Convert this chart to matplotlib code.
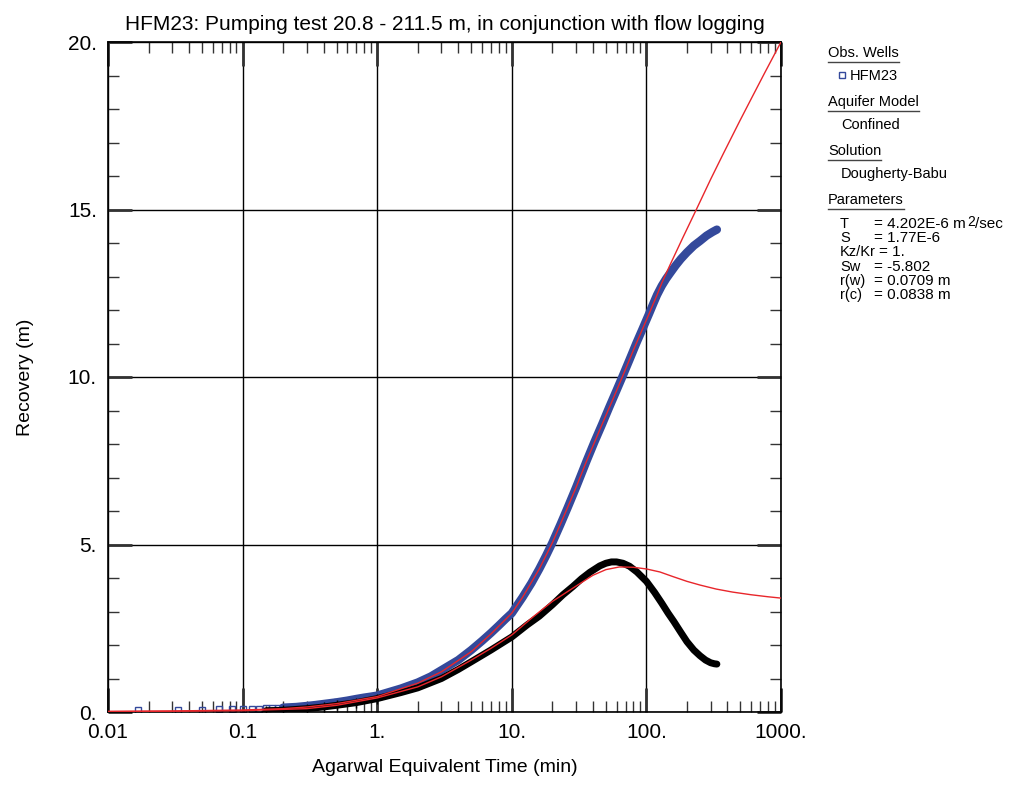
import matplotlib as mpl
mpl.use('Agg')
import matplotlib.pyplot as plt
import numpy as np
from matplotlib.ticker import FixedLocator, FixedFormatter, LogLocator, MultipleLocator
from matplotlib.lines import Line2D

plt.rcParams['font.family'] = ['Liberation Sans', 'DejaVu Sans']

# observed recovery, HFM23 (min, m)
t_obs = [0.0167, 0.0333, 0.05, 0.0667, 0.0833, 0.1, 0.1167, 0.1333, 0.15, 0.1667,
         0.1833, 0.2, 0.25, 0.3, 0.35, 0.4, 0.5, 0.6, 0.7, 0.8, 0.9, 1.0, 1.5,
         2.0, 2.5, 3.0, 4.0, 5.0, 6.0, 7.0, 8.0, 9.0, 10.0, 12.0, 14.0, 16.0, 18.0,
         20.0, 23.0, 26.0, 30.0, 36.0, 41.0, 47.0, 53.0, 60.0, 67.0, 75.0,
         84.0, 94.0, 105.0, 112.0, 120.0, 130.0, 140.0, 150.0, 165.0, 180.0, 200.0,
         225.0, 250.0, 280.0, 310.0, 334.0]
s_obs = [0.06, 0.06, 0.07, 0.08, 0.08, 0.09, 0.1, 0.1, 0.11, 0.12,
         0.12, 0.13, 0.15, 0.18, 0.21, 0.24, 0.29, 0.34, 0.39, 0.43, 0.46, 0.49, 0.7,
         0.88, 1.06, 1.25, 1.55, 1.85, 2.12, 2.36, 2.58, 2.78, 2.95, 3.42, 3.85, 4.27, 4.67,
         5.05, 5.6, 6.1, 6.7, 7.5, 8.05, 8.6, 9.1, 9.6, 10.05, 10.52,
         11.0, 11.45, 11.9, 12.17, 12.45, 12.72, 12.93, 13.1, 13.33, 13.52, 13.72,
         13.92, 14.06, 14.22, 14.33, 14.4]

# observed derivative (min, m)
t_der = [0.15, 0.2, 0.3, 0.4, 0.5, 0.7, 1.0, 1.5, 2.0, 3.0, 4.0, 5.0, 7.0, 10.0,
         13.0, 16.0, 20.0, 24.0, 28.5, 33.0, 38.0, 45.0, 50.0, 55.0, 60.0, 67.0,
         75.0, 85.0, 100.0, 115.0, 130.0, 145.0, 160.0, 180.0, 200.0, 225.0, 250.0,
         275.0, 300.0, 320.0, 334.0]
d_der = [0.04, 0.05, 0.1, 0.15, 0.2, 0.28, 0.4, 0.58, 0.72, 1.0, 1.27, 1.5, 1.85, 2.24,
         2.6, 2.86, 3.2, 3.5, 3.75, 3.98, 4.17, 4.36, 4.44, 4.48, 4.48, 4.44,
         4.35, 4.18, 3.9, 3.57, 3.25, 2.95, 2.7, 2.38, 2.1, 1.85, 1.68,
         1.55, 1.47, 1.44, 1.43]

# Dougherty-Babu fit, recovery and derivative
t_fit = [0.01, 0.03, 0.1, 0.2, 0.3, 0.5, 1.0, 2.0, 3.0, 5.0, 7.0, 10.0, 12.0, 16.0,
         20.0, 25.0, 30.0, 36.0, 47.0, 57.0, 67.0, 80.0, 94.0, 105.0, 120.0, 130.0,
         150.0, 186.0, 235.0, 300.0, 371.0, 495.0, 600.0, 750.0, 1000.0]
s_fit = [0.02, 0.03, 0.06, 0.1, 0.15, 0.25, 0.46, 0.86, 1.2, 1.8, 2.33, 2.95, 3.42, 4.27,
         5.05, 5.95, 6.7, 7.5, 8.6, 9.38, 10.05, 10.8, 11.45, 11.9, 12.45, 12.8,
         13.35, 14.15, 15.0, 15.9, 16.65, 17.65, 18.3, 19.05, 20.0]

t_fd = [0.01, 0.1, 0.3, 0.5, 1.0, 2.0, 3.0, 5.0, 7.0, 10.0, 14.4, 20.0, 28.5, 40.0,
        50.0, 63.0, 80.0, 100.0, 126.0, 158.0, 200.0, 250.0, 330.0, 436.0, 600.0,
        800.0, 1000.0]
d_fd = [0.01, 0.04, 0.1, 0.2, 0.42, 0.75, 1.05, 1.55, 1.9, 2.3, 2.84, 3.3, 3.7, 4.08,
        4.25, 4.33, 4.32, 4.27, 4.18, 4.04, 3.9, 3.79, 3.67, 3.58, 3.5,
        3.44, 3.40]

x_major = [0.01, 0.1, 1, 10, 100, 1000]
x_labels = ['0.01', '0.1', '1.', '10.', '100.', '1000.']
y_major = [0, 5, 10, 15, 20]
y_labels = ['0.', '5.', '10.', '15.', '20.']

blue = '#34499b'
red = '#e8262b'

fig = plt.figure(figsize=(10.27, 7.87), dpi=100)
ax = fig.add_axes([108 / 1027, 75 / 787, 673 / 1027, 670 / 787])

# dense data: sparse squares early, solid band where the points pile up
t_o = np.array(t_obs)
s_o = np.array(s_obs)
band = t_o >= 0.2
early = t_o <= 0.6
ax.plot(t_o[band], s_o[band], '-', color=blue, lw=6, solid_capstyle='round', zorder=2)
ax.plot(t_o[early], s_o[early], 's', mfc='none', mec=blue, ms=4, mew=1, zorder=2)

t_d = np.array(t_der)
d_d = np.array(d_der)
ax.plot(t_d, d_d, '-', color='black', lw=5, solid_capstyle='round', zorder=3)
ax.plot(t_d[t_d <= 1], d_d[t_d <= 1], '+', color='black', ms=7, mew=1, zorder=3)

ax.plot(t_fit, s_fit, '-', color=red, lw=1.0, zorder=4)
ax.plot(t_fd, d_fd, '-', color=red, lw=1.0, zorder=4)

ax.set_xscale('log')
ax.set_xlim(0.01, 1000)
ax.set_ylim(0, 20)
ax.xaxis.set_major_locator(FixedLocator(x_major))
ax.xaxis.set_major_formatter(FixedFormatter(x_labels))
ax.xaxis.set_minor_locator(LogLocator(base=10, subs=np.arange(2, 10), numticks=20))
ax.xaxis.set_minor_formatter(FixedFormatter([]))
ax.yaxis.set_major_locator(FixedLocator(y_major))
ax.yaxis.set_major_formatter(FixedFormatter(y_labels))
ax.yaxis.set_minor_locator(MultipleLocator(1))

ax.tick_params(which='both', direction='in', top=True, right=True, colors='#333333',
               labelcolor='black')
ax.tick_params(which='major', length=17, width=2, labelsize=15, pad=8)
ax.tick_params(which='minor', length=8, width=1)
ax.grid(True, which='major', color='black', lw=1)
for sp in ax.spines.values():
    sp.set_linewidth(1.2)

ax.set_title('HFM23: Pumping test 20.8 - 211.5 m, in conjunction with flow logging',
             fontsize=15, pad=9)
ax.set_xlabel('Agarwal Equivalent Time (min)', fontsize=14, labelpad=12)
ax.set_ylabel('Recovery (m)', fontsize=14, labelpad=24)

# legend panel on the right
def fy(py):
    return 1 - py / 787

fs = 10.5
headers = [('Obs. Wells', 53), ('Aquifer Model', 102), ('Solution', 151), ('Parameters', 200)]
head_txt = []
for s, py in headers:
    head_txt.append(fig.text(828 / 1027, fy(py), s, fontsize=fs, va='center', ha='left'))

fig.text(850 / 1027, fy(76), 'HFM23', fontsize=fs, va='center')
fig.add_artist(Line2D([842 / 1027], [fy(75)], marker='s', mfc='none', mec=blue, ms=4, mew=1))
fig.text(841 / 1027, fy(125), 'Confined', fontsize=fs, va='center')
fig.text(841 / 1027, fy(174), 'Dougherty-Babu', fontsize=fs, va='center')

p_names = ['T', 'S', 'Kz/Kr', 'Sw', 'r(w)', 'r(c)']
p_vals = ['= 4.202E-6 m', '= 1.77E-6', '= 1.', '= -5.802', '= 0.0709 m', '= 0.0838 m']
p_rows = [224, 238, 252, 267, 281, 295]
p_x = [874, 874, 879, 874, 874, 874]
val_txt = []
for n, v, py, px in zip(p_names, p_vals, p_rows, p_x):
    fig.text(840 / 1027, fy(py), n, fontsize=fs, va='center')
    val_txt.append(fig.text(px / 1027, fy(py), v, fontsize=11, va='center'))

fig.canvas.draw()
r = fig.canvas.get_renderer()
inv = fig.transFigure.inverted()
for t in head_txt:
    bb = t.get_window_extent(r).transformed(inv)
    fig.add_artist(Line2D([bb.x0, bb.x1], [bb.y0 - 0.002, bb.y0 - 0.002], color='#444444', lw=1))

# m^2/sec with a large raised 2
bb = val_txt[0].get_window_extent(r).transformed(inv)
sup = fig.text(bb.x1 + 1 / 1027, fy(229), '2', fontsize=10, va='bottom')
fig.canvas.draw()
bb2 = sup.get_window_extent(r).transformed(inv)
fig.text(bb2.x1, fy(224), '/sec', fontsize=11, va='center')

fig.savefig('out.png', dpi=100)
